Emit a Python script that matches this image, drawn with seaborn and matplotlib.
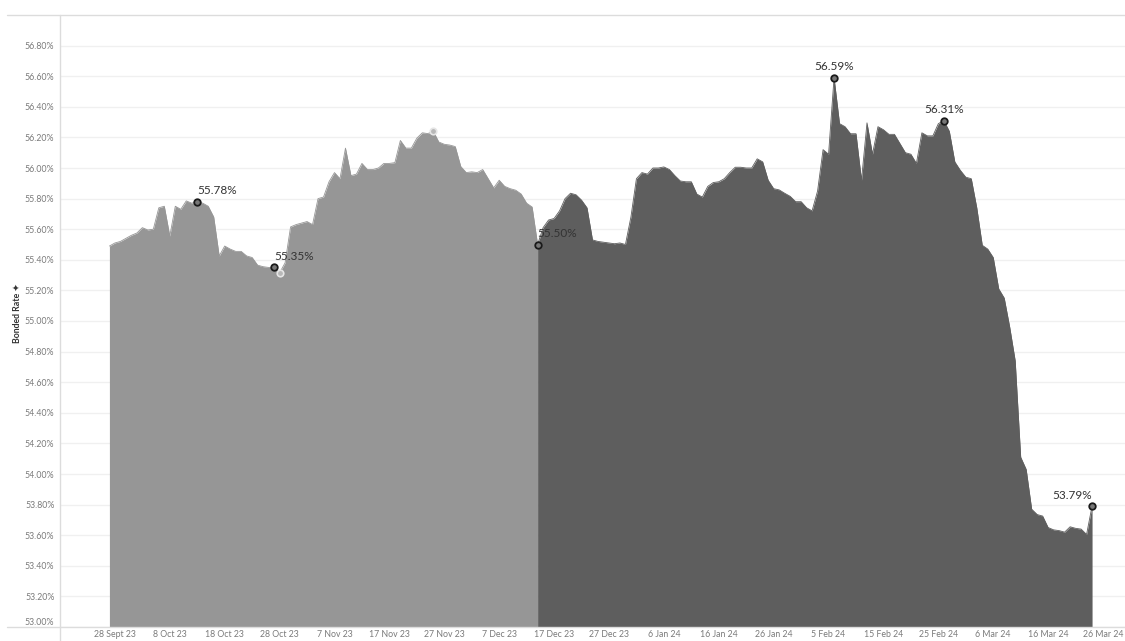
import matplotlib
matplotlib.use("Agg")
import matplotlib.pyplot as plt
from matplotlib.lines import Line2D
import pandas as pd
import seaborn as sns

# Daily bonded rate (%), starting 27 Sep 2023
start_date = "2023-09-27"
bonded_rate = [
    55.49, 55.51, 55.52, 55.54, 55.56, 55.575, 55.61, 55.595, 55.60, 55.74,
    55.75, 55.555, 55.75, 55.73, 55.785, 55.77, 55.78, 55.77, 55.75, 55.68,
    55.425, 55.49, 55.47, 55.455, 55.455, 55.425, 55.415, 55.365, 55.355, 55.35,
    55.35, 55.315, 55.38, 55.615, 55.63, 55.64, 55.65, 55.63, 55.80, 55.81,
    55.91, 55.97, 55.93, 56.13, 55.95, 55.96, 56.03, 55.99, 55.99, 56.00,
    56.03, 56.03, 56.035, 56.18, 56.13, 56.13, 56.195, 56.23, 56.225, 56.24,
    56.17, 56.155, 56.15, 56.14, 56.01, 55.97, 55.975, 55.97, 55.99, 55.93,
    55.87, 55.92, 55.88, 55.865, 55.855, 55.83, 55.77, 55.745, 55.50, 55.61,
    55.66, 55.67, 55.72, 55.80, 55.835, 55.825, 55.79, 55.74, 55.53, 55.52,
    55.515, 55.51, 55.505, 55.51, 55.50, 55.68, 55.93, 55.97, 55.96, 56.00,
    56.00, 56.007, 55.99, 55.95, 55.915, 55.91, 55.91, 55.83, 55.81, 55.88,
    55.905, 55.91, 55.93, 55.97, 56.005, 56.005, 56.00, 56.00, 56.06, 56.04,
    55.92, 55.865, 55.857, 55.835, 55.815, 55.78, 55.78, 55.74, 55.72, 55.85,
    56.12, 56.09, 56.59, 56.29, 56.27, 56.224, 56.224, 55.92, 56.295, 56.09,
    56.27, 56.25, 56.22, 56.22, 56.16, 56.10, 56.09, 56.03, 56.23, 56.21,
    56.21, 56.29, 56.31, 56.24, 56.04, 55.985, 55.94, 55.93, 55.74, 55.495,
    55.47, 55.415, 55.21, 55.15, 54.96, 54.74, 54.11, 54.03, 53.77, 53.735,
    53.725, 53.65, 53.635, 53.63, 53.62, 53.655, 53.645, 53.64, 53.605, 53.79,
]
split_date = "2023-12-14"

# Highlighted points: date, label placement
labelled_dates = ["2023-10-13", "2023-10-27", "2023-12-14", "2024-02-06", "2024-02-26", "2024-03-24"]
labelled_align = ["left", "left", "left", "center", "center", "right"]
faint_dates = ["2023-10-28", "2023-11-25"]

x_tick_dates = ["2023-09-28", "2023-10-08", "2023-10-18", "2023-10-28", "2023-11-07",
                "2023-11-17", "2023-11-27", "2023-12-07", "2023-12-17", "2023-12-27",
                "2024-01-06", "2024-01-16", "2024-01-26", "2024-02-05", "2024-02-15",
                "2024-02-25", "2024-03-06", "2024-03-16", "2024-03-26"]
x_tick_labels = ["28 Sept 23", "8 Oct 23", "18 Oct 23", "28 Oct 23", "7 Nov 23",
                 "17 Nov 23", "27 Nov 23", "7 Dec 23", "17 Dec 23", "27 Dec 23",
                 "6 Jan 24", "16 Jan 24", "26 Jan 24", "5 Feb 24", "15 Feb 24",
                 "25 Feb 24", "6 Mar 24", "16 Mar 24", "26 Mar 24"]
y_ticks = [53.0, 53.2, 53.4, 53.6, 53.8, 54.0, 54.2, 54.4, 54.6, 54.8,
           55.0, 55.2, 55.4, 55.6, 55.8, 56.0, 56.2, 56.4, 56.6, 56.8]
y_tick_labels = [f"{v:.2f}%" for v in y_ticks]

light_grey = "#969696"
dark_grey = "#5e5e5e"

sns.set_theme(style="white")
plt.rcParams["font.family"] = ["Lato", "DejaVu Sans"]

df = pd.DataFrame({
    "date": pd.date_range(start_date, periods=len(bonded_rate), freq="D"),
    "rate": bonded_rate,
})
split = pd.Timestamp(split_date)
early = df[df["date"] <= split]
late = df[df["date"] >= split]

fig = plt.figure(figsize=(11.25, 6.41), dpi=100)
ax = fig.add_axes([60 / 1125, 1 - 627 / 641, 1 - 60 / 1125, (627 - 15) / 641])

ax.set_ylim(53.0, 57.0)
ax.set_xlim(pd.Timestamp("2023-09-18"), pd.Timestamp("2024-03-30"))

for seg, col in [(early, light_grey), (late, dark_grey)]:
    ax.fill_between(seg["date"], seg["rate"], 53.0, color=col, lw=0, zorder=2)
    sns.lineplot(data=seg, x="date", y="rate", color=col, lw=0.6, ax=ax, zorder=3)

# faint hover rings
faint = df[df["date"].isin(pd.to_datetime(faint_dates))]
sns.scatterplot(data=faint, x="date", y="rate", ax=ax, s=22, marker="o",
                facecolor="#b8b8b8", edgecolor="#e6e6e6", linewidth=1.2, zorder=5)

# labelled points
lab = df[df["date"].isin(pd.to_datetime(labelled_dates))].reset_index(drop=True)
sns.scatterplot(data=lab, x="date", y="rate", ax=ax, s=22, marker="o",
                facecolor="#777777", edgecolor="#1a1a1a", linewidth=1.3, zorder=6)
for (_, row), ha in zip(lab.iterrows(), labelled_align):
    ax.annotate(f"{row['rate']:.2f}%", (row["date"], row["rate"]),
                xytext=(0, 4), textcoords="offset points", ha=ha, va="bottom",
                fontsize=8.5, color="#333333", zorder=7)

# axes styling
ax.set_yticks(y_ticks)
ax.set_yticklabels(y_tick_labels)
ax.set_xticks(pd.to_datetime(x_tick_dates))
ax.set_xticklabels(x_tick_labels)
ax.tick_params(axis="y", length=0, pad=4, labelsize=6.3, labelcolor="#7a7a7a")
ax.tick_params(axis="x", length=0, pad=2, labelsize=6.3, labelcolor="#7a7a7a")
ax.get_yticklabels()[0].set_verticalalignment("bottom")
ax.grid(axis="y", color="#f0f0f0", lw=1)
ax.grid(axis="x", visible=False)
ax.set_axisbelow(True)
ax.set_xlabel("")
ax.set_ylabel("")
for side in ["top", "right", "bottom", "left"]:
    ax.spines[side].set_visible(False)

# pane borders
border = "#dcdcdc"
fig.add_artist(Line2D([7 / 1125, 1], [1 - 15 / 641] * 2, color=border, lw=1))
fig.add_artist(Line2D([7 / 1125, 1], [1 - 627 / 641] * 2, color=border, lw=1))
fig.add_artist(Line2D([60 / 1125] * 2, [0, 1 - 15 / 641], color=border, lw=1))

fig.text(17 / 1125, 1 - 313 / 641, "Bonded Rate \u2726", rotation=90,
         ha="center", va="center", fontsize=6.3, color="#333333", fontweight="bold")

fig.savefig("out.png", dpi=100, facecolor="white")
